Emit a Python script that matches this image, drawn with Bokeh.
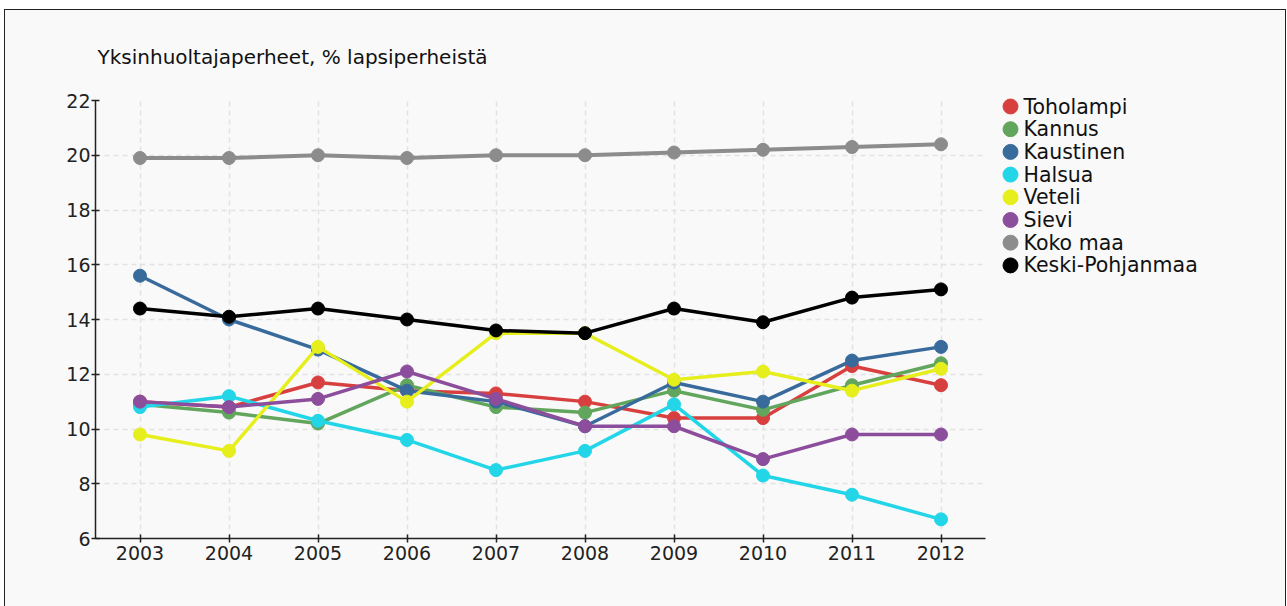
from bokeh.plotting import figure
from bokeh.models import FixedTicker, Range1d, ColumnDataSource
from bokeh.core.properties import value
from bokeh.layouts import row
from bokeh.embed import file_html
from bokeh.resources import INLINE

years = [2003, 2004, 2005, 2006, 2007, 2008, 2009, 2010, 2011, 2012]
names = ["Toholampi", "Kannus", "Kaustinen", "Halsua", "Veteli", "Sievi", "Koko maa", "Keski-Pohjanmaa"]
toholampi = [11.0, 10.8, 11.7, 11.4, 11.3, 11.0, 10.4, 10.4, 12.3, 11.6]
kannus = [10.9, 10.6, 10.2, 11.6, 10.8, 10.6, 11.4, 10.7, 11.6, 12.4]
kaustinen = [15.6, 14.0, 12.9, 11.4, 11.0, 10.1, 11.7, 11.0, 12.5, 13.0]
halsua = [10.8, 11.2, 10.3, 9.6, 8.5, 9.2, 10.9, 8.3, 7.6, 6.7]
veteli = [9.8, 9.2, 13.0, 11.0, 13.5, 13.5, 11.8, 12.1, 11.4, 12.2]
sievi = [11.0, 10.8, 11.1, 12.1, 11.1, 10.1, 10.1, 8.9, 9.8, 9.8]
koko_maa = [19.9, 19.9, 20.0, 19.9, 20.0, 20.0, 20.1, 20.2, 20.3, 20.4]
keski_pohjanmaa = [14.4, 14.1, 14.4, 14.0, 13.6, 13.5, 14.4, 13.9, 14.8, 15.1]
y_ticks = [6, 8, 10, 12, 14, 16, 18, 20, 22]

series = [toholampi, kannus, kaustinen, halsua, veteli, sievi, koko_maa, keski_pohjanmaa]
colors = ["#d8403f", "#62a55c", "#386b9c", "#22d6e8", "#e6ee1c", "#8c4e9c", "#8c8c8c", "#000000"]
widths = [3.5, 3.5, 3.5, 3.5, 3.5, 3.5, 4, 3.5]

FONT = "DejaVu Sans"
BG = "#f9f9f9"

p = figure(width=990, height=596, output_backend="svg", toolbar_location=None,
           x_range=Range1d(2002.5, 2012.5), y_range=Range1d(6, 22),
           min_border_left=90, min_border_right=10, min_border_top=90, min_border_bottom=68,
           title="Yksinhuoltajaperheet, % lapsiperheistä")
p.border_fill_color = BG
p.background_fill_color = BG
p.outline_line_color = None

p.title.text_font = FONT
p.title.text_font_size = "20px"
p.title.text_font_style = "normal"
p.title.text_color = "#111111"
p.title.offset = 2
p.title.standoff = 64

for ax in (p.xaxis[0], p.yaxis[0]):
    ax.axis_line_color = "#222222"
    ax.axis_line_width = 1.5
    ax.major_tick_line_color = "#222222"
    ax.major_tick_line_width = 1.5
    ax.major_tick_in = 4
    ax.major_tick_out = 4
    ax.minor_tick_line_color = None
    ax.major_label_text_font = FONT
    ax.major_label_text_font_size = "19px"
    ax.major_label_text_color = "#222222"
p.xaxis.ticker = FixedTicker(ticks=years)
p.yaxis.ticker = FixedTicker(ticks=y_ticks)
p.xaxis.major_label_standoff = 3
p.yaxis.major_label_standoff = 1

for g in (p.xgrid[0], p.ygrid[0]):
    g.grid_line_color = "#e2e2e2"
    g.grid_line_dash = "5 4"
    g.grid_line_width = 1.5

for name, vals, c, w in zip(names, series, colors, widths):
    p.line(years, vals, line_color=c, line_width=w)
    p.scatter(years, vals, size=13, fill_color=c, line_color=c)

# legend panel: a second figure in pixel-like units (y downward)
LW, LH = 290, 596
lg = figure(width=LW, height=LH, output_backend="svg", toolbar_location=None,
            x_range=Range1d(0, LW), y_range=Range1d(LH, 0),
            x_axis_location=None, y_axis_location=None,
            min_border_left=0, min_border_right=0, min_border_top=0, min_border_bottom=0)
if "frame_align" in lg.properties():
    lg.frame_align = False
    p.frame_align = False
lg.grid.visible = False
lg.outline_line_color = None
lg.border_fill_color = BG
lg.background_fill_color = BG

row_pitch, first_row, dot_x, label_x = 22.7, 96, 15, 28
leg_src = ColumnDataSource(dict(
    name=names, color=colors,
    y=[first_row + row_pitch * i for i in range(len(names))],
    dx=[dot_x] * len(names), lx=[label_x] * len(names)))
lg.scatter("dx", "y", source=leg_src, size=15, fill_color="color", line_color="color")
lg.text("lx", "y", text="name", source=leg_src, text_font=value(FONT),
        text_font_size=value("20.5px"), text_baseline="middle", text_align="left",
        text_color="#111111")

layout = row(p, lg)
layout.styles = {"border": "1px solid #222", "margin-left": "4px", "margin-top": "9px",
                 "background-color": BG}

open("out.html", "w").write(file_html(layout, INLINE))
